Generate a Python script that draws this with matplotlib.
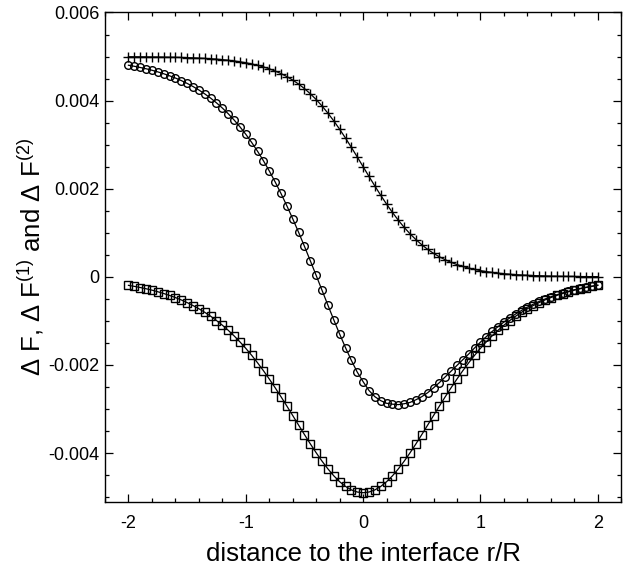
import numpy as np
import matplotlib
matplotlib.use("Agg")
import matplotlib.pyplot as plt
from matplotlib.ticker import MultipleLocator

plt.rcParams['font.family'] = ['Liberation Sans', 'DejaVu Sans']
plt.rcParams['mathtext.fontset'] = 'custom'
plt.rcParams['mathtext.rm'] = 'Liberation Sans'
plt.rcParams['mathtext.it'] = 'Liberation Sans:italic'
plt.rcParams['mathtext.default'] = 'regular'

# distance to the interface r/R, one marker every 0.05
r = [round(-2 + 0.05 * i, 2) for i in range(81)]

# values in units of 1e-3
dF_plus = [
    4.996, 4.995, 4.994, 4.993, 4.991, 4.990, 4.988, 4.985, 4.983, 4.979,
    4.975, 4.971, 4.965, 4.958, 4.950, 4.941, 4.929, 4.916, 4.900, 4.881,
    4.859, 4.832, 4.801, 4.765, 4.722, 4.671, 4.613, 4.545, 4.466, 4.376,
    4.272, 4.155, 4.024, 3.877, 3.715, 3.539, 3.350, 3.149, 2.938, 2.721,
    2.500,
    2.279, 2.062, 1.851, 1.650, 1.461, 1.285, 1.123, 0.976, 0.845, 0.728,
    0.624, 0.534, 0.455, 0.387, 0.329, 0.278, 0.235, 0.199, 0.168, 0.141,
    0.119, 0.100, 0.084, 0.071, 0.059, 0.050, 0.042, 0.035, 0.029, 0.025,
    0.021, 0.017, 0.015, 0.012, 0.010, 0.009, 0.007, 0.006, 0.005, 0.004,
]

dF_circle = [
    4.803, 4.779, 4.752, 4.723, 4.689, 4.652, 4.610, 4.563, 4.513, 4.455,
    4.391, 4.320, 4.241, 4.153, 4.057, 3.950, 3.832, 3.703, 3.561, 3.405,
    3.236, 3.051, 2.851, 2.636, 2.404, 2.155, 1.892, 1.612, 1.318, 1.011,
    0.692, 0.364, 0.031, -0.307, -0.644, -0.977, -1.300, -1.608, -1.898, -2.163,
    -2.380,
    -2.580, -2.720, -2.810, -2.870, -2.890, -2.900, -2.880, -2.850, -2.790, -2.720,
    -2.630, -2.520, -2.400, -2.270, -2.140, -2.010, -1.880, -1.751, -1.613, -1.482,
    -1.357, -1.239, -1.129, -1.026, -0.932, -0.843, -0.763, -0.689, -0.622, -0.559,
    -0.503, -0.453, -0.407, -0.366, -0.328, -0.293, -0.263, -0.236, -0.211, -0.189,
]

dF_square = [
    -0.193, -0.216, -0.242, -0.270, -0.302, -0.338, -0.378, -0.422, -0.470, -0.524,
    -0.584, -0.651, -0.724, -0.805, -0.893, -0.991, -1.097, -1.213, -1.339, -1.476,
    -1.623, -1.781, -1.950, -2.129, -2.318, -2.516, -2.721, -2.933, -3.148, -3.365,
    -3.580, -3.791, -3.993, -4.184, -4.359, -4.516, -4.650, -4.757, -4.836, -4.884,
    -4.900,
    -4.884, -4.836, -4.757, -4.650, -4.516, -4.359, -4.184, -3.993, -3.791, -3.580,
    -3.365, -3.148, -2.933, -2.721, -2.516, -2.318, -2.129, -1.950, -1.781, -1.623,
    -1.476, -1.339, -1.213, -1.097, -0.991, -0.893, -0.805, -0.724, -0.651, -0.584,
    -0.524, -0.470, -0.422, -0.378, -0.338, -0.302, -0.270, -0.242, -0.216, -0.193,
]

x = np.array(r)
fig = plt.figure(figsize=(6.25, 5.68), dpi=100)
ax = fig.add_axes([0.168, 0.117, 0.826, 0.861])

ax.plot(x, np.array(dF_plus) * 1e-3, color='black', lw=0.9,
        marker='+', ms=7, mew=1.0)
ax.plot(x, np.array(dF_circle) * 1e-3, color='black', lw=0.9,
        marker='o', ms=5.5, mew=1.0, mfc='none')
ax.plot(x, np.array(dF_square) * 1e-3, color='black', lw=0.9,
        marker='s', ms=5.5, mew=1.0, mfc='none')

ax.set_xlim(-2.2, 2.2)
ax.set_ylim(-0.0051, 0.006)
ax.set_xticks([-2, -1, 0, 1, 2])
ax.set_xticklabels(['-2', '-1', '0', '1', '2'])
ax.set_yticks([-0.004, -0.002, 0, 0.002, 0.004, 0.006])
ax.set_yticklabels(['-0.004', '-0.002', '0', '0.002', '0.004', '0.006'])
ax.xaxis.set_minor_locator(MultipleLocator(0.2))
ax.yaxis.set_minor_locator(MultipleLocator(0.0005))
ax.tick_params(which='both', direction='in', top=True, right=True,
               labelsize=13, width=0.9)
ax.tick_params(which='major', length=6)
ax.tick_params(which='minor', length=3)
ax.tick_params(axis='x', which='major', pad=10)
ax.tick_params(axis='y', which='major', pad=4)
for s in ax.spines.values():
    s.set_linewidth(1.0)

ax.set_xlabel('distance to the interface r/R', fontsize=18.5, labelpad=7)
ax.set_ylabel(r'$\Delta$ F, $\Delta$ F$^{(1)}$ and $\Delta$ F$^{(2)}$',
              fontsize=18.5, labelpad=2)

fig.savefig('out.png', dpi=100)
